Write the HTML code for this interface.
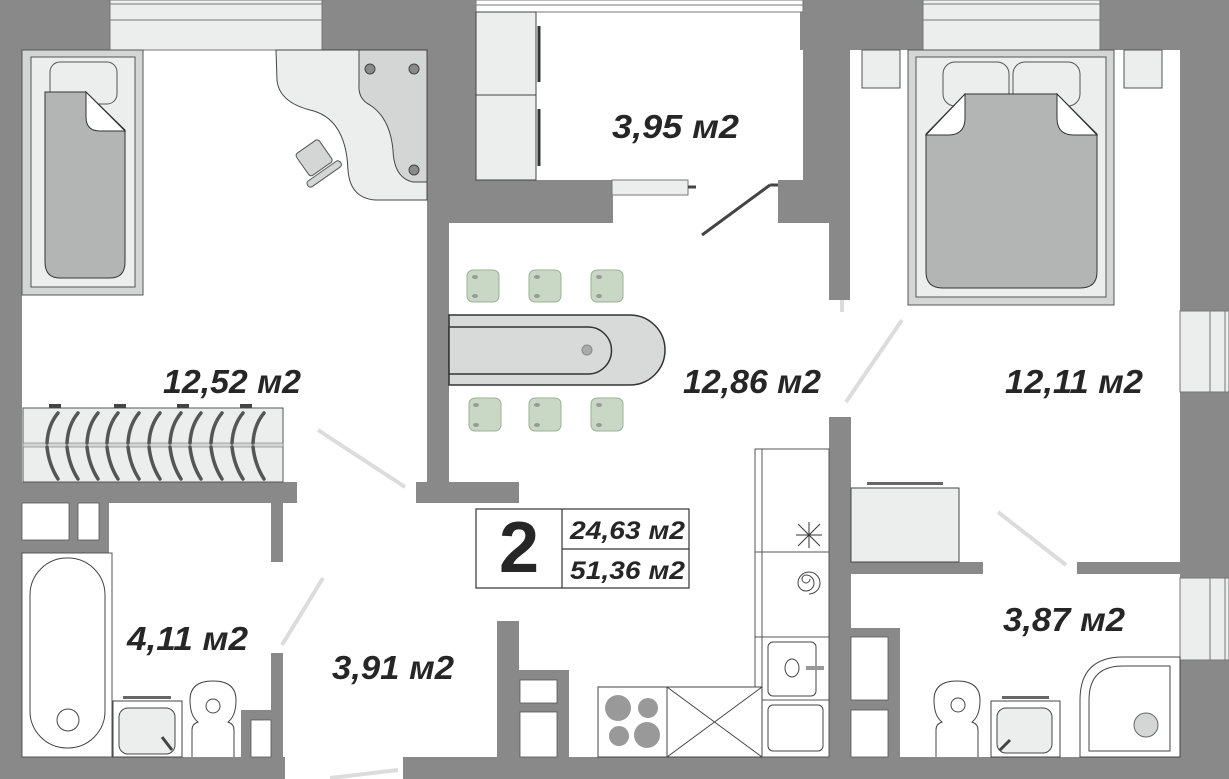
<!DOCTYPE html>
<html><head><meta charset="utf-8"><style>html,body{margin:0;padding:0;background:#fff}svg{display:block}</style></head>
<body>
<svg width="1229" height="779" viewBox="0 0 1229 779" xmlns="http://www.w3.org/2000/svg" font-family="Liberation Sans, sans-serif">
<rect width="1229" height="779" fill="#fff"/>
<g fill="#898989">
<rect x="0" y="0" width="22" height="779"/>
<rect x="0" y="0" width="110" height="50"/>
<rect x="322" y="0" width="154" height="50"/>
<rect x="427" y="0" width="22" height="503"/>
<rect x="449" y="0" width="27" height="180"/>
<rect x="800" y="0" width="123" height="50"/>
<rect x="1100" y="0" width="129" height="50"/>
<rect x="803" y="0" width="47" height="180"/>
<rect x="778" y="180" width="72" height="43"/>
<rect x="829" y="223" width="21" height="77"/>
<rect x="449" y="180" width="164" height="43"/>
<rect x="1180" y="0" width="49" height="311"/>
<rect x="1180" y="392" width="49" height="186"/>
<rect x="1180" y="660" width="49" height="119"/>
<rect x="0" y="757" width="285" height="22"/>
<rect x="403" y="757" width="826" height="22"/>
<rect x="22" y="482" width="275" height="21"/>
<rect x="271" y="503" width="12" height="59"/>
<rect x="22" y="503" width="87" height="50"/>
<rect x="271" y="653" width="12" height="104"/>
<rect x="241" y="710" width="42" height="10"/>
<rect x="241" y="710" width="10" height="47"/>
<rect x="416" y="482" width="103" height="21"/>
<rect x="497" y="621" width="22" height="136"/>
<rect x="519" y="670" width="50" height="87"/>
<rect x="829" y="417" width="22" height="340"/>
<rect x="851" y="562" width="132" height="12"/>
<rect x="1077" y="562" width="103" height="12"/>
<rect x="851" y="628" width="49" height="129"/>
</g>
<g fill="#fff" stroke="#555" stroke-width="0.8">
<rect x="22" y="503" width="47" height="37"/>
<rect x="78" y="503" width="21" height="37"/>
<rect x="520" y="680" width="37" height="23"/>
<rect x="520" y="712" width="37" height="45"/>
<rect x="851" y="637" width="37" height="63"/>
<rect x="851" y="710" width="37" height="47"/>
<rect x="251" y="720" width="20" height="37"/>
</g>
<g fill="#eceeed" stroke="#777" stroke-width="1">
<rect x="110" y="0" width="212" height="50"/>
<line x1="110" y1="20" x2="322" y2="20"/><line x1="110" y1="4" x2="322" y2="4"/>
<rect x="923" y="0" width="177" height="50"/>
<line x1="923" y1="20" x2="1100" y2="20"/><line x1="923" y1="4" x2="1100" y2="4"/>
<rect x="1180" y="311" width="49" height="81"/>
<line x1="1210" y1="311" x2="1210" y2="392"/><line x1="1225" y1="311" x2="1225" y2="392"/>
<rect x="1180" y="578" width="49" height="82"/>
<line x1="1210" y1="578" x2="1210" y2="660"/><line x1="1225" y1="578" x2="1225" y2="660"/>
<rect x="476" y="0" width="327" height="12" fill="#fff"/>
<line x1="476" y1="5" x2="803" y2="5"/>
<rect x="612" y="180" width="76" height="15"/>
</g>
<line x1="688" y1="187" x2="696" y2="187" stroke="#444" stroke-width="3"/>
<line x1="702" y1="235" x2="770" y2="185" stroke="#444" stroke-width="3"/>
<line x1="770" y1="185" x2="778" y2="185" stroke="#444" stroke-width="3"/>
<g fill="#eceeed" stroke="#444" stroke-width="1">
<rect x="476" y="12" width="60" height="83"/>
<rect x="476" y="95" width="60" height="85"/>
</g>
<line x1="539" y1="26" x2="539" y2="82" stroke="#333" stroke-width="3"/>
<line x1="539" y1="109" x2="539" y2="166" stroke="#333" stroke-width="3"/>
<g stroke="#dcdcdc" stroke-width="4" fill="none">
<line x1="318" y1="430" x2="405" y2="487"/>
<line x1="282" y1="645" x2="323" y2="578"/>
<line x1="846" y1="402" x2="902" y2="320"/>
<line x1="998" y1="512" x2="1066" y2="565"/>
<line x1="330" y1="778" x2="398" y2="770"/>
<line x1="842" y1="300" x2="842" y2="312"/>
</g>
<rect x="22" y="50" width="121" height="245" fill="#d4d6d5" stroke="#555"/>
<rect x="31" y="57" width="104" height="230" fill="#eceeed" stroke="#555"/>
<rect x="50" y="62" width="67" height="42" rx="10" fill="#eceeed" stroke="#555"/>
<path d="M45 92 H86 L125 130 V262 Q125 278 110 278 H60 Q45 278 45 262 Z" fill="#b3b5b4" stroke="#333"/>
<path d="M86 92 V117 Q86 131 100 131 H125 Z" fill="#fff" stroke="#333"/>
<path d="M276 50 H427 V200 H375 Q350 198 348 170 Q346 118 310 110 Q279 102 277 80 Z" fill="#eceeed" stroke="#444"/>
<path d="M359 50 H427 V182 H413 Q394 178 393 150 Q390 118 370 105 Q358 99 359 85 Z" fill="#d4d6d5" stroke="#444"/>
<g fill="#8a8a8a" stroke="#444"><circle cx="370" cy="69" r="5"/><circle cx="414" cy="69" r="5"/><circle cx="414" cy="170" r="5"/></g>
<g transform="rotate(-35 313 158)"><rect x="300" y="145" width="28" height="27" rx="3" fill="#d4d6d5" stroke="#555"/><rect x="293" y="174" width="40" height="7" rx="3" fill="#d4d6d5" stroke="#555"/></g>
<rect x="23" y="408" width="260" height="74" fill="#eceeed" stroke="#555"/>
<rect x="23" y="443" width="260" height="4" fill="#d4d6d5" stroke="#777" stroke-width="0.6"/>
<g fill="#444"><rect x="49" y="404" width="12" height="4"/><rect x="114" y="404" width="12" height="4"/><rect x="177" y="404" width="12" height="4"/><rect x="240" y="404" width="12" height="4"/></g>
<g stroke="#555" stroke-width="3.5" fill="none" stroke-linecap="round">
<path id="f" d="M0 0"/>
<path d="M58 413 Q48 425 47 443 M47 447 Q49 465 58 479"/>
<path d="M78 413 Q68 425 67 443 M67 447 Q69 465 78 479"/>
<path d="M98 413 Q88 425 87 443 M87 447 Q89 465 98 479"/>
<path d="M118 413 Q108 425 107 443 M107 447 Q109 465 118 479"/>
<path d="M139 413 Q129 425 128 443 M128 447 Q130 465 139 479"/>
<path d="M160 413 Q150 425 149 443 M149 447 Q151 465 160 479"/>
<path d="M181 413 Q171 425 170 443 M170 447 Q172 465 181 479"/>
<path d="M201 413 Q191 425 190 443 M190 447 Q192 465 201 479"/>
<path d="M222 413 Q212 425 211 443 M211 447 Q213 465 222 479"/>
<path d="M243 413 Q233 425 232 443 M232 447 Q234 465 243 479"/>
<path d="M264 413 Q254 425 253 443 M253 447 Q255 465 264 479"/>
</g>
<path d="M449 315 H630 A35 35 0 0 1 630 385 H449 Z" fill="#d8dad9" stroke="#333" stroke-width="1.5"/>
<path d="M449 327 H588 A23 23 0 0 1 588 374 H449 Z" fill="#d8dad9" stroke="#333" stroke-width="1.5"/>
<circle cx="587" cy="350" r="5" fill="#aaa" stroke="#888"/>
<g fill="#c8d8c4" stroke="#9ab094">
<rect x="467" y="270" width="32" height="32" rx="6"/><rect x="529" y="270" width="32" height="32" rx="6"/><rect x="591" y="270" width="32" height="32" rx="6"/>
<rect x="469" y="398" width="32" height="33" rx="6"/><rect x="529" y="398" width="32" height="33" rx="6"/><rect x="591" y="398" width="32" height="33" rx="6"/>
</g>
<g fill="#999">
<ellipse cx="475" cy="277" rx="3" ry="2"/><ellipse cx="475" cy="296" rx="3" ry="2"/><ellipse cx="537" cy="277" rx="3" ry="2"/><ellipse cx="537" cy="296" rx="3" ry="2"/><ellipse cx="599" cy="277" rx="3" ry="2"/><ellipse cx="599" cy="296" rx="3" ry="2"/>
<ellipse cx="476" cy="405" rx="3" ry="2"/><ellipse cx="476" cy="425" rx="3" ry="2"/><ellipse cx="537" cy="405" rx="3" ry="2"/><ellipse cx="537" cy="425" rx="3" ry="2"/><ellipse cx="599" cy="405" rx="3" ry="2"/><ellipse cx="599" cy="425" rx="3" ry="2"/>
</g>
<rect x="862" y="50" width="38" height="38" fill="#eceeed" stroke="#555"/>
<rect x="1124" y="50" width="38" height="38" fill="#eceeed" stroke="#555"/>
<rect x="908" y="50" width="206" height="255" fill="#d4d6d5" stroke="#555"/>
<rect x="916" y="57" width="190" height="240" fill="#eceeed" stroke="#555"/>
<rect x="943" y="62" width="66" height="44" rx="12" fill="#eceeed" stroke="#555"/>
<rect x="1013" y="62" width="67" height="44" rx="12" fill="#eceeed" stroke="#555"/>
<path d="M965 94 H1057 L1097 134 V272 Q1097 288 1080 288 H943 Q926 288 926 272 V134 Z" fill="#b3b5b4" stroke="#333"/>
<path d="M965 94 V118 Q965 135 948 135 H926 Z" fill="#fff" stroke="#333"/>
<path d="M1057 94 V118 Q1057 135 1074 135 H1097 Z" fill="#fff" stroke="#333"/>
<rect x="755" y="449" width="74" height="308" fill="#fff" stroke="#555"/>
<line x1="762" y1="449" x2="762" y2="757" stroke="#555"/>
<line x1="755" y1="552" x2="829" y2="552" stroke="#555"/>
<line x1="755" y1="637" x2="829" y2="637" stroke="#555"/>
<line x1="755" y1="700" x2="829" y2="700" stroke="#555"/>
<g stroke="#333" stroke-width="1"><line x1="798" y1="524" x2="820" y2="546"/><line x1="820" y1="524" x2="798" y2="546"/><line x1="809" y1="522" x2="809" y2="548"/><line x1="796" y1="535" x2="822" y2="535"/></g>
<path d="M810 579 a4 4 0 1 1 -4 -4 a8 8 0 1 1 -8 8 a11 11 0 1 1 11 11" fill="none" stroke="#444"/>
<rect x="768" y="642" width="48" height="54" rx="5" fill="#fff" stroke="#444"/>
<ellipse cx="792" cy="668" rx="7" ry="9" fill="#fff" stroke="#444"/>
<rect x="806" y="666" width="18" height="4" fill="#999"/>
<rect x="768" y="705" width="55" height="46" rx="5" fill="#fff" stroke="#444"/>
<rect x="598" y="687" width="164" height="70" fill="#fff" stroke="#444"/>
<line x1="667" y1="687" x2="667" y2="757" stroke="#444"/>
<line x1="667" y1="687" x2="762" y2="757" stroke="#444"/><line x1="762" y1="687" x2="667" y2="757" stroke="#444"/>
<g fill="#999"><circle cx="618" cy="708" r="13"/><circle cx="648" cy="708" r="10"/><circle cx="619" cy="736" r="10"/><circle cx="647" cy="735" r="13"/></g>
<rect x="851" y="488" width="108" height="74" fill="#eceeed" stroke="#444"/>
<rect x="867" y="482" width="76" height="3" fill="#666"/>
<rect x="22" y="553" width="90" height="204" fill="#fff" stroke="#555"/>
<rect x="30" y="558" width="75" height="190" rx="37" fill="#fff" stroke="#444"/>
<circle cx="68" cy="720" r="11" fill="#fff" stroke="#444"/>
<rect x="113" y="701" width="69" height="56" fill="#fff" stroke="#444"/>
<rect x="119" y="708" width="56" height="46" rx="9" fill="#eceeed" stroke="#444"/>
<rect x="123" y="696" width="48" height="3" fill="#666"/>
<line x1="162" y1="737" x2="172" y2="750" stroke="#444" stroke-width="3"/>
<path d="M192 757 V730 Q192 724 198 722 Q190 716 190 700 Q190 681 213 681 Q236 681 236 700 Q236 716 228 722 Q234 724 234 730 V757" fill="#fff" stroke="#444"/>
<circle cx="213" cy="706" r="7" fill="#fff" stroke="#444"/>
<path d="M936 757 V730 Q936 724 942 722 Q934 716 934 700 Q934 681 957 681 Q980 681 980 700 Q980 716 972 722 Q978 724 978 730 V757" fill="#fff" stroke="#444"/>
<circle cx="958" cy="705" r="7" fill="#fff" stroke="#444"/>
<rect x="991" y="701" width="69" height="56" fill="#fff" stroke="#444"/>
<rect x="997" y="708" width="55" height="45" rx="9" fill="#eceeed" stroke="#444"/>
<rect x="1002" y="696" width="47" height="3" fill="#666"/>
<line x1="1010" y1="740" x2="1000" y2="750" stroke="#444" stroke-width="3"/>
<path d="M1080 757 V700 Q1080 657 1123 657 H1180 V757 Z" fill="#fff" stroke="#444"/>
<path d="M1089 751 V700 Q1089 666 1123 666 H1170 V751 Z" fill="#fff" stroke="#444"/>
<circle cx="1146" cy="725" r="12" fill="#d4d6d5" stroke="#666"/>
<rect x="476" y="509" width="213" height="79" fill="#fff" stroke="#333" stroke-width="1.2"/>
<line x1="562" y1="509" x2="562" y2="588" stroke="#333" stroke-width="1.2"/>
<line x1="562" y1="549" x2="689" y2="549" stroke="#333" stroke-width="1.2"/>
<g fill="#262626" font-weight="bold">
<text x="519" y="572" font-size="72" text-anchor="middle">2</text>
<g font-style="italic" font-size="25">
<text x="570" y="539" textLength="115" lengthAdjust="spacingAndGlyphs">24,63 м2</text>
<text x="570" y="579" textLength="115" lengthAdjust="spacingAndGlyphs">51,36 м2</text>
</g>
<g font-style="italic" font-size="33">
<text x="612" y="138" textLength="127" lengthAdjust="spacingAndGlyphs">3,95 м2</text>
<text x="163" y="393" textLength="138" lengthAdjust="spacingAndGlyphs">12,52 м2</text>
<text x="683" y="393" textLength="138" lengthAdjust="spacingAndGlyphs">12,86 м2</text>
<text x="1005" y="393" textLength="138" lengthAdjust="spacingAndGlyphs">12,11 м2</text>
<text x="127" y="650" textLength="121" lengthAdjust="spacingAndGlyphs">4,11 м2</text>
<text x="332" y="679" textLength="122" lengthAdjust="spacingAndGlyphs">3,91 м2</text>
<text x="1003" y="631" textLength="122" lengthAdjust="spacingAndGlyphs">3,87 м2</text>
</g>
</g>
</svg>
</body></html>
